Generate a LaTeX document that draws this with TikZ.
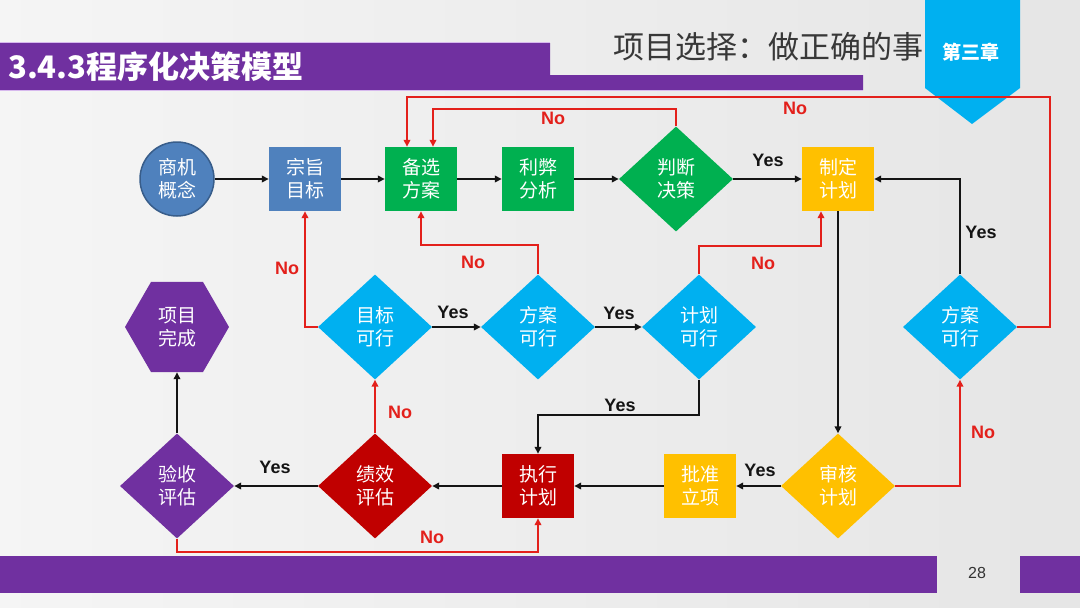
\documentclass[tikz,border=0pt]{standalone}
\usepackage{fontspec}
\setmainfont{Liberation Sans}
\newfontfamily\cjk{Noto Sans CJK SC}
\usetikzlibrary{shapes.geometric,arrows.meta,calc}
\definecolor{cblue}{HTML}{4F81BD}
\definecolor{cbluedark}{HTML}{385D8A}
\definecolor{cgreen}{HTML}{00B050}
\definecolor{cyellow}{HTML}{FFC000}
\definecolor{ccyan}{HTML}{00B0F0}
\definecolor{cred}{HTML}{C00000}
\definecolor{cpurple}{HTML}{7030A0}
\definecolor{clav}{HTML}{D7B9EE}
\definecolor{cline}{HTML}{E3201B}
\definecolor{cblack}{HTML}{141414}
\begin{document}
\begin{tikzpicture}[x=1pt,y=-1pt,
  nodefont/.style={font=\cjk\fontsize{19}{23}\selectfont},
  box/.style={rectangle, minimum width=72pt, minimum height=64pt, inner sep=0pt, text=white, align=center, nodefont},
  dia/.style={diamond, minimum width=114pt, minimum height=105pt, inner sep=0pt, text=white, align=center, nodefont},
  arr/.style={draw=cblack, line width=1.8pt, -{Triangle[length=7pt,width=6.5pt]}},
  rarr/.style={draw=cline, line width=1.8pt, -{Triangle[length=7pt,width=6.5pt]}},
  yeslbl/.style={font=\bfseries\fontsize{18}{20}\selectfont, text=cblack, inner sep=0pt},
  nolbl/.style={font=\bfseries\fontsize{18}{20}\selectfont, text=cline, inner sep=0pt}
]
\useasboundingbox (0,0) rectangle (1080,608);
% background
\shade[left color=white!96!black, right color=white!90!black] (0,0) rectangle (1080,608);
% title bar
\fill[cpurple] (0,43) -- (550,43) -- (550,75) -- (863,75) -- (863,90) -- (0,90) -- cycle;
\draw[clav, line width=1pt] (0,90.5) -- (863,90.5);
\draw[clav, line width=1pt] (0,42.5) -- (550,42.5);
\node[anchor=west, text=white, font=\cjk\bfseries\fontsize{31}{34}\selectfont, inner sep=0pt] (title) at (8,67) {3.4.3程序化决策模型};
\node[anchor=east, text=black!78, font=\cjk\fontsize{31}{34}\selectfont, inner sep=0pt] (subtitle) at (924,47) {项目选择：做正确的事};
% chapter tab
\fill[ccyan] (925,0) -- (1020,0) -- (1020,88) -- (972,124) -- (925,88) -- cycle;
\node[text=white, font=\cjk\bfseries\fontsize{19}{22}\selectfont, inner sep=0pt] (chapter) at (971,52) {第三章};
% bottom bars
\fill[cpurple] (0,556) rectangle (937,593);
\fill[cpurple] (1020,556) rectangle (1080,593);
\node[text=black!80, font=\fontsize{16}{18}\selectfont, inner sep=0pt] (page) at (977,573) {28};

% nodes row 1
\node[circle, minimum size=74pt, inner sep=0pt, fill=cblue, draw=cbluedark, line width=1.5pt, text=white, align=center, nodefont] (gainian) at (177,179) {商机\\概念};
\node[box, fill=cblue] (zongzhi) at (305,179) {宗旨\\目标};
\node[box, fill=cgreen] (beixuan) at (421,179) {备选\\方案};
\node[box, fill=cgreen] (libi) at (538,179) {利弊\\分析};
\node[dia, fill=cgreen] (panduan) at (676,179) {判断\\决策};
\node[box, fill=cyellow] (zhiding) at (838,179) {制定\\计划};
% row 2
\node[regular polygon, regular polygon sides=6, minimum size=104pt, inner sep=0pt, fill=cpurple, text=white, align=center, nodefont] (wancheng) at (177,327) {项目\\完成};
\node[dia, fill=ccyan] (mbkx) at (375,327) {目标\\可行};
\node[dia, fill=ccyan] (fakx1) at (538,327) {方案\\可行};
\node[dia, fill=ccyan] (jhkx) at (699,327) {计划\\可行};
\node[dia, fill=ccyan] (fakx2) at (960,327) {方案\\可行};
% row 3
\node[dia, fill=cpurple] (yanshou) at (177,486) {验收\\评估};
\node[dia, fill=cred] (jixiao) at (375,486) {绩效\\评估};
\node[box, fill=cred] (zhixing) at (538,486) {执行\\计划};
\node[box, fill=cyellow] (pizhun) at (700,486) {批准\\立项};
\node[dia, fill=cyellow] (shenhe) at (838,486) {审核\\计划};

% connectors
\draw[arr] (gainian) -- (zongzhi);
\draw[arr] (zongzhi) -- (beixuan);
\draw[arr] (beixuan) -- (libi);
\draw[arr] (libi) -- (panduan);
\draw[arr] (panduan) -- (zhiding);
\draw[rarr] (panduan.north) -- ++(0,-17) -| ([xshift=12pt]beixuan.north);
\coordinate (o1) at (1050,97);
\draw[rarr] (fakx2.east) -| (o1) -| ([xshift=-14pt]beixuan.north);
\draw[arr] (zhiding) -- (shenhe);
\draw[arr] (shenhe) -- (pizhun);
\draw[arr] (pizhun) -- (zhixing);
\draw[arr] (zhixing) -- (jixiao);
\draw[arr] (jixiao) -- (yanshou);
\draw[arr] (yanshou) -- (wancheng);
\draw[rarr] (jixiao) -- (mbkx);
\draw[rarr] (yanshou.south) -- ++(0,13) -| (zhixing.south);
\draw[rarr] (mbkx.west) -| (zongzhi.south);
\draw[arr] (mbkx) -- (fakx1);
\draw[rarr] (fakx1.north) -- ++(0,-29) -| (beixuan.south);
\draw[arr] (fakx1) -- (jhkx);
\draw[rarr] (jhkx.north) -- ++(0,-28) -| ([xshift=-17pt]zhiding.south);
\draw[arr] (jhkx.south) -- ++(0,35) -| (zhixing.north);
\draw[rarr] (shenhe.east) -| (fakx2.south);
\draw[arr] (fakx2.north) |- (zhiding.east);

% labels
\node[nolbl] (l1) at (553,118) {No};
\node[nolbl] (l2) at (795,108) {No};
\node[yeslbl] (l3) at (768,160) {Yes};
\node[yeslbl] (l4) at (981,232) {Yes};
\node[nolbl] (l5) at (287,268) {No};
\node[nolbl] (l6) at (473,262) {No};
\node[nolbl] (l7) at (763,263) {No};
\node[yeslbl] (l8) at (453,312) {Yes};
\node[yeslbl] (l9) at (619,313) {Yes};
\node[yeslbl] (l10) at (620,405) {Yes};
\node[nolbl] (l11) at (400,412) {No};
\node[nolbl] (l12) at (983,432) {No};
\node[yeslbl] (l13) at (275,467) {Yes};
\node[yeslbl] (l14) at (760,470) {Yes};
\node[nolbl] (l15) at (432,537) {No};
\end{tikzpicture}
\end{document}
